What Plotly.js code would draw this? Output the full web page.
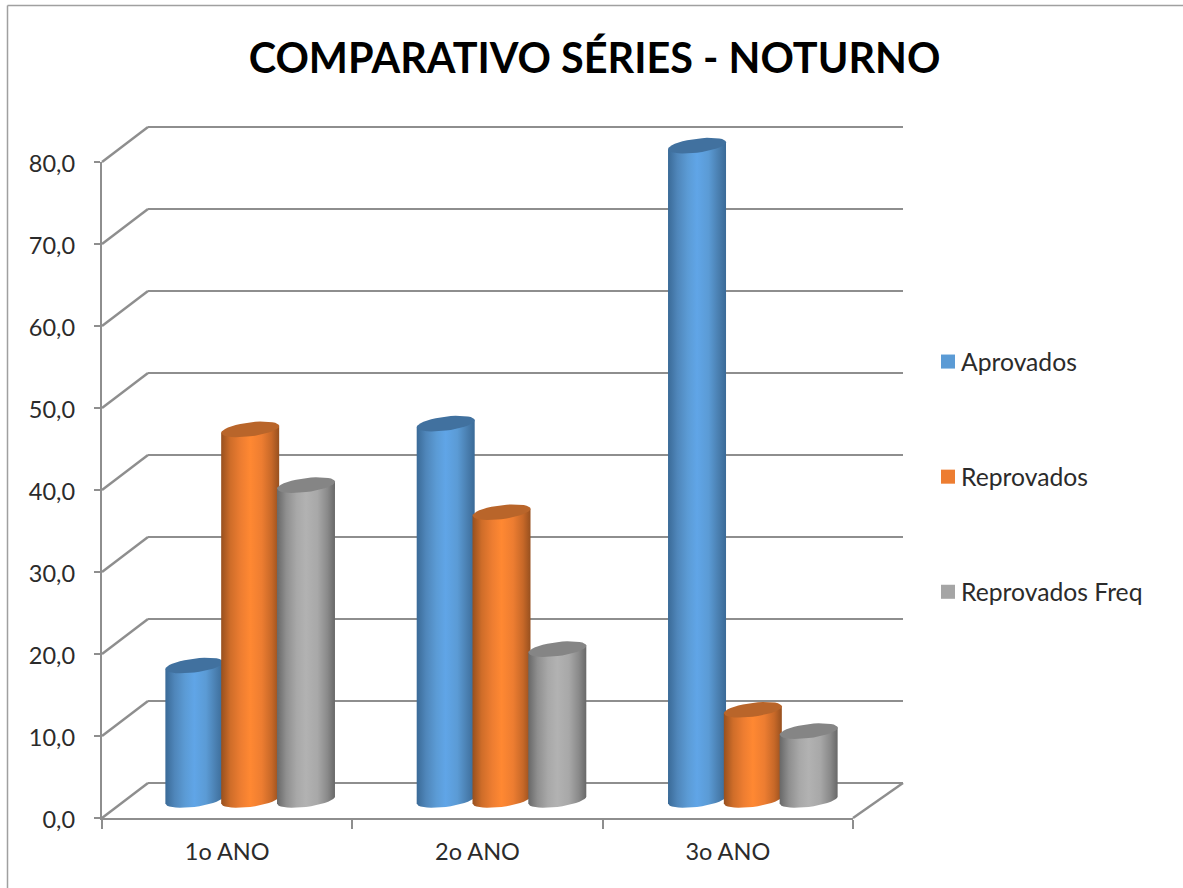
<!DOCTYPE html>
<html><head><meta charset="utf-8">
<script src="https://cdn.plot.ly/plotly-3.0.1.min.js"></script>
<style>html,body{margin:0;padding:0;background:#fff;overflow:hidden}</style>
</head><body><div id="chart" style="width:1183px;height:888px"></div>
<script>
const chartTitle = 'COMPARATIVO SÉRIES - NOTURNO';
const categories = ['1o ANO', '2o ANO', '3o ANO'];
const aprovados = [16.4, 45.9, 79.8];
const reprovados = [45.2, 35.1, 11.0];
const reprovadosFreq = [38.4, 18.4, 8.4];
const yTicks = [0, 10, 20, 30, 40, 50, 60, 70, 80];

const W = 1183, H = 888;
const px = v => v / W, py = v => 1 - v / H;
const PPU = 8.2;
const frontX = [102, 853], frontY = [818, 162];
const midX = [124.5, 878.5];
const midRange = [-4, 86], midBase = 800;
const backX = [148, 903], backBase = 783;
const backRange = [-1, 81];
const GRID = '#8e8e8e', TEXT = '#2b2b2b', FONT = 'Lato, sans-serif';

const series = [
  {name: 'Aprovados', values: aprovados, swatch: '#5B9BD5', top: '#41719F',
   scale: [[0, '#3A6A97'], [0.16, '#4F86BA'], [0.34, '#5B9BD5'], [0.5, '#60A5E7'], [0.7, '#5B9BD5'], [0.87, '#4A7FB0'], [1, '#3A6A97']]},
  {name: 'Reprovados', values: reprovados, swatch: '#ED7D31', top: '#B9652A',
   scale: [[0, '#97501F'], [0.16, '#CF6D29'], [0.34, '#ED7D31'], [0.5, '#FF8832'], [0.7, '#ED7D31'], [0.87, '#C76828'], [1, '#97501F']]},
  {name: 'Reprovados Freq', values: reprovadosFreq, swatch: '#A5A5A5', top: '#858585',
   scale: [[0, '#686868'], [0.16, '#8F8F8F'], [0.34, '#A8A8A8'], [0.5, '#B2B2B2'], [0.7, '#A8A8A8'], [0.87, '#8A8A8A'], [1, '#686868']]}
];

const unitX = (midX[1] - midX[0]) / 3;
const a = 29 / unitX, b = 7 / PPU, s = 3.5 / PPU, step = 55.8 / unitX;
const angles = []; for (let d = 0; d <= 360; d += 10) angles.push(d * Math.PI / 180);
const ex = (cx, t) => cx + a * Math.cos(t);
const ey = (cy, t) => cy - b * Math.sin(t) + s * Math.cos(t);

const common = {hoverinfo: 'skip', showlegend: false};
const traces = [
  {x: categories, y: [0, 0, 0], type: 'scatter', mode: 'none', xaxis: 'x', yaxis: 'y', ...common},
  {x: [0], y: [0], type: 'scatter', mode: 'none', xaxis: 'x2', yaxis: 'y2', ...common}
];
series.forEach((ser, i) => {
  traces.push({type: 'bar', name: ser.name, x: [0, 1, 2].map(c => c + (i - 1) * step), y: ser.values,
    width: 0.14, marker: {color: ser.swatch}, xaxis: 'x3', yaxis: 'y3', hoverinfo: 'skip', legendgroup: ser.name});
});
series.forEach((ser, i) => {
  ser.values.forEach((v, c) => {
    const cx = c + (i - 1) * step;
    const bottom = angles.filter(t => t <= Math.PI + 1e-6);
    const xs = [ex(cx, Math.PI), ex(cx, 0)], ys = [ey(v, Math.PI), ey(v, 0)];
    bottom.forEach(t => { xs.push(ex(cx, t)); ys.push(ey(0, t)); });
    traces.push({type: 'scatter', mode: 'lines', x: xs, y: ys, fill: 'toself', line: {width: 0},
      fillgradient: {type: 'horizontal', colorscale: ser.scale}, xaxis: 'x3', yaxis: 'y3', ...common});
    traces.push({type: 'scatter', mode: 'lines', x: angles.map(t => ex(cx, t)), y: angles.map(t => ey(v, t)),
      fill: 'toself', fillcolor: ser.top, line: {width: 0}, xaxis: 'x3', yaxis: 'y3', ...common});
  });
});

const line = (x0, y0, x1, y1, color = GRID, width = 2.4) => ({type: 'line', layer: 'below', xref: 'paper', yref: 'paper',
  x0: px(x0), y0: py(y0), x1: px(x1), y1: py(y1), line: {color, width}});
const yFront = v => frontY[0] - PPU * v;
const yBack = v => backBase - PPU * v;
const shapes = yTicks.map(v => line(frontX[0], yFront(v), backX[0], yBack(v)));
shapes.push(line(frontX[1], frontY[0], backX[1], backBase));
shapes.push(line(7.5, 5.5, 7.5, H, '#a0a0a0', 1.5));
shapes.push(line(7.5, 5.5, W, 5.5, '#a0a0a0', 1.5));

const layout = {
  width: W, height: H, margin: {l: 0, r: 0, t: 0, b: 0}, autosize: false,
  paper_bgcolor: '#fff', plot_bgcolor: 'rgba(0,0,0,0)', separators: ',.',
  barmode: 'overlay', shapes,
  title: {text: '<b>' + chartTitle + '</b>', x: px(594.5), xref: 'paper', xanchor: 'center', y: py(58.5), yref: 'paper', yanchor: 'middle',
    font: {family: FONT, size: 41.4, color: '#000'}},
  xaxis: {domain: [px(frontX[0]), px(frontX[1])], type: 'category', categoryorder: 'array', categoryarray: categories,
    range: [-0.5, 2.5], tickson: 'boundaries', ticks: 'outside', ticklen: 9, tickwidth: 2, tickcolor: GRID, showgrid: false,
    showline: true, linecolor: GRID, linewidth: 2.4, zeroline: false, fixedrange: true, ticklabelstandoff: 12,
    tickfont: {family: FONT, size: 23.5, color: TEXT}, anchor: 'y'},
  yaxis: {domain: [py(frontY[0]), py(frontY[1])], range: [0, 80], tickvals: yTicks, tickformat: '.1f', ticks: 'outside', ticklen: 6,
    tickwidth: 2, tickcolor: GRID, showgrid: false, showline: true, linecolor: GRID, linewidth: 2.4, zeroline: false, fixedrange: true,
    ticklabelstandoff: 14, ticklabelshift: 2,
    tickfont: {family: FONT, size: 23.5, color: TEXT}, anchor: 'x'},
  xaxis2: {domain: [px(backX[0]), px(backX[1])], range: [0, 1], visible: false, fixedrange: true, anchor: 'y2'},
  yaxis2: {domain: [py(backBase - PPU * backRange[0]), py(backBase - PPU * backRange[1])], range: backRange, tickvals: yTicks,
    showticklabels: false, ticks: '', showgrid: true, gridcolor: GRID, gridwidth: 2.4, zeroline: false, showline: false, fixedrange: true, anchor: 'x2'},
  xaxis3: {domain: [px(midX[0]), px(midX[1])], range: [-0.5, 2.5], visible: false, fixedrange: true, anchor: 'y3'},
  yaxis3: {domain: [py(midBase - PPU * midRange[0]), py(midBase - PPU * midRange[1])], range: midRange, visible: false, fixedrange: true, anchor: 'x3'},
  showlegend: true,
  legend: {x: px(921), y: py(339), xanchor: 'left', yanchor: 'top', traceorder: 'grouped', tracegroupgap: 80,
    font: {family: FONT, size: 24.7, color: TEXT}, bgcolor: 'rgba(0,0,0,0)', itemclick: false, itemdoubleclick: false}
};
Plotly.newPlot('chart', traces, layout, {displayModeBar: false, responsive: false}).then(() => {
  document.querySelectorAll('.legend .legendpoints path').forEach(p => {
    p.setAttribute('transform', 'translate(27,0) scale(1.17)');
  });
});
</script></body></html>
